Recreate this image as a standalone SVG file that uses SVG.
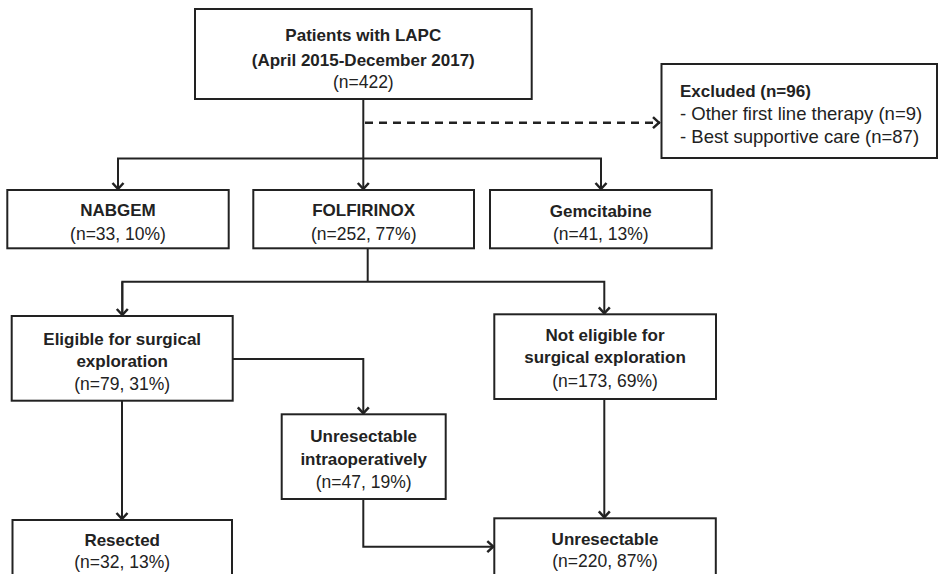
<svg xmlns="http://www.w3.org/2000/svg" width="939" height="574" viewBox="0 0 939 574">
<style>
  .box { fill: #ffffff; stroke: #222222; stroke-width: 2; }
  .ln { fill: none; stroke: #222222; stroke-width: 2; }
  .dash { fill: none; stroke: #222222; stroke-width: 2.5; stroke-dasharray: 8 6; }
  text { font-family: "Liberation Sans", Arial, sans-serif; fill: #222222; }
  .b { font-weight: bold; font-size: 17px; text-anchor: middle; }
  .r { font-size: 17.5px; text-anchor: middle; }
  .bl { font-weight: bold; font-size: 17px; }
  .rl { font-size: 18.5px; }
</style>
<defs>
  <marker id="arr" viewBox="-9 -7 10 14" refX="0" refY="0" markerWidth="10" markerHeight="14" markerUnits="userSpaceOnUse" orient="auto">
    <path d="M-7,-5.5 L-1,0 L-7,5.5" fill="none" stroke="#222222" stroke-width="2.5"/>
  </marker>
</defs>
<rect width="939" height="574" fill="#ffffff"/>

<g id="connectors">
  <path class="ln" d="M363.3,99 V190" marker-end="url(#arr)"/>
  <path class="ln" d="M118,190 V158.5 H601 V190" marker-end="url(#arr)"/>
  <path class="ln" d="M118,158.5 V190" marker-end="url(#arr)"/>
  <path class="dash" d="M365,122.7 H660" marker-end="url(#arr)"/>
  <path class="ln" d="M367.7,248 V281.7"/>
  <path class="ln" d="M122.3,316 V281.7 H604.3 V314.3" marker-end="url(#arr)"/>
  <path class="ln" d="M122.3,281.7 V316" marker-end="url(#arr)"/>
  <path class="ln" d="M232.7,359 H363.3 V414.3" marker-end="url(#arr)"/>
  <path class="ln" d="M122,400.7 V520" marker-end="url(#arr)"/>
  <path class="ln" d="M363.3,499 V546.7 H494.3" marker-end="url(#arr)"/>
  <path class="ln" d="M604.3,399 V518.3" marker-end="url(#arr)"/>
</g>

<g id="patients">
  <rect class="box" x="195" y="9" width="336.7" height="90"/>
  <text class="b" x="363.3" y="41">Patients with LAPC</text>
  <text class="b" x="363.3" y="65.5" font-size="18px">(April 2015-December 2017)</text>
  <text class="r" x="363.3" y="87.5">(n=422)</text>
</g>

<g id="excluded">
  <rect class="box" x="661.5" y="64" width="275.5" height="94"/>
  <text class="bl" x="680" y="97">Excluded (n=96)</text>
  <text class="rl" x="680" y="120">- Other first line therapy (n=9)</text>
  <text class="rl" x="680" y="143">- Best supportive care (n=87)</text>
</g>

<g id="nabgem">
  <rect class="box" x="7.3" y="190" width="221.4" height="58.3"/>
  <text class="b" x="118" y="216">NABGEM</text>
  <text class="r" x="118" y="239.5">(n=33, 10%)</text>
</g>

<g id="folfirinox">
  <rect class="box" x="253.3" y="190" width="220.7" height="58.3"/>
  <text class="b" x="363.7" y="216">FOLFIRINOX</text>
  <text class="r" x="363.7" y="239.5">(n=252, 77%)</text>
</g>

<g id="gemcitabine">
  <rect class="box" x="490" y="190" width="221.7" height="58.3"/>
  <text class="b" x="600.8" y="216.5">Gemcitabine</text>
  <text class="r" x="600.8" y="240">(n=41, 13%)</text>
</g>

<g id="eligible">
  <rect class="box" x="11.7" y="316" width="221" height="84.7"/>
  <text class="b" x="122.2" y="345">Eligible for surgical</text>
  <text class="b" x="122.2" y="367">exploration</text>
  <text class="r" x="122.2" y="389.5">(n=79, 31%)</text>
</g>

<g id="not-eligible">
  <rect class="box" x="494.3" y="314.3" width="221.7" height="84.7"/>
  <text class="b" x="605" y="340.7">Not eligible for</text>
  <text class="b" x="605" y="363.3">surgical exploration</text>
  <text class="r" x="605" y="386.7">(n=173, 69%)</text>
</g>

<g id="intraop">
  <rect class="box" x="281.7" y="414.3" width="164" height="84.7"/>
  <text class="b" x="363.7" y="441.7">Unresectable</text>
  <text class="b" x="363.7" y="465">intraoperatively</text>
  <text class="r" x="363.7" y="487.7">(n=47, 19%)</text>
</g>

<g id="resected">
  <rect class="box" x="12.5" y="520" width="219.5" height="70"/>
  <text class="b" x="122.2" y="545.5">Resected</text>
  <text class="r" x="122.2" y="568">(n=32, 13%)</text>
</g>

<g id="unresectable">
  <rect class="box" x="494.3" y="518.3" width="221.5" height="72"/>
  <text class="b" x="605" y="545">Unresectable</text>
  <text class="r" x="605" y="567">(n=220, 87%)</text>
</g>
</svg>
